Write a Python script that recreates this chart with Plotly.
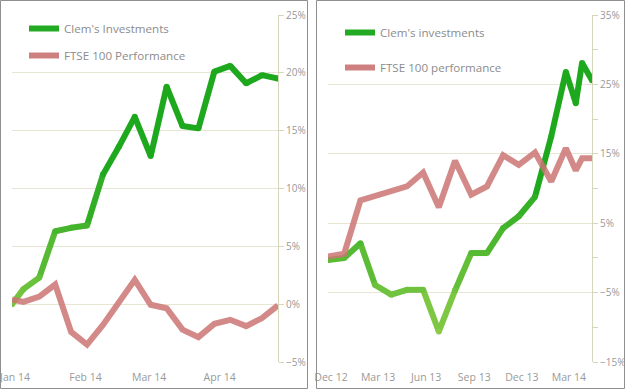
import plotly.graph_objects as go

# ---------------- data ----------------
left_dates = ["2014-01-01", "2014-01-06", "2014-01-13", "2014-01-20", "2014-01-27",
              "2014-02-03", "2014-02-10", "2014-02-17", "2014-02-24", "2014-03-03",
              "2014-03-10", "2014-03-17", "2014-03-24", "2014-03-31", "2014-04-07",
              "2014-04-14", "2014-04-21", "2014-04-28"]
left_clem = [0.0, 1.3, 2.3, 6.3, 6.6, 6.8, 11.2, 13.6, 16.2, 12.8, 18.8, 15.4,
             15.2, 20.1, 20.6, 19.1, 19.8, 19.5]
left_ftse = [0.4, 0.2, 0.65, 1.7, -2.4, -3.5, -1.8, 0.2, 2.1, -0.05, -0.35, -2.2,
             -2.85, -1.7, -1.35, -1.9, -1.2, -0.1]

right_dates = ["2012-12-01", "2013-01-01", "2013-02-01", "2013-03-01", "2013-04-01",
               "2013-05-01", "2013-06-01", "2013-07-01", "2013-08-01", "2013-09-01",
               "2013-10-01", "2013-11-01", "2013-12-01", "2014-01-01", "2014-02-01",
               "2014-03-01", "2014-03-20", "2014-04-01", "2014-04-20"]
right_clem = [-0.3, 0.0, 2.1, -3.9, -5.3, -4.6, -4.6, -10.6, -4.7, 0.7, 0.7, 4.3,
              6.0, 8.8, 17.5, 26.8, 22.3, 28.1, 25.6]
right_ftse = [0.2, 0.6, 8.3, 8.9, 9.6, 10.3, 12.3, 7.3, 14.0, 9.1, 10.3, 14.8,
              13.4, 15.2, 11.0, 15.8, 12.6, 14.35, 14.35]

left_names = ["Clem's Investments", "FTSE 100 Performance"]
right_names = ["Clem's investments", "FTSE 100 performance"]
left_range = [-5, 25]
right_range = [-15, 35]

# ---------------- styles ----------------
W, H = 625, 390
LIGHT = (160, 210, 80)
DARK = (30, 168, 30)
RED = "rgba(204,116,116,0.85)"
GRID = "#e6e6d2"
AXIS = "#d6d6bc"
TXT = "#999999"
FONT = "Open Sans"


def green_at(v, rng):
    f = (v - rng[0]) / (rng[1] - rng[0])
    t = max(0.0, min(1.0, f / 0.55))
    c = [round(LIGHT[i] + (DARK[i] - LIGHT[i]) * t) for i in range(3)]
    return "rgb(%d,%d,%d)" % tuple(c)


fig = go.Figure()


def add_panel(dates, clem, ftse, names, rng, xa, ya, legend):
    # gradient green line, one segment per pair of points
    for i in range(len(dates) - 1):
        fig.add_trace(go.Scatter(
            x=dates[i:i + 2], y=clem[i:i + 2], mode="lines",
            line=dict(color=green_at((clem[i] + clem[i + 1]) / 2, rng), width=6),
            xaxis=xa, yaxis=ya, showlegend=False, hoverinfo="skip"))
    fig.add_trace(go.Scatter(
        x=dates, y=clem, mode="markers",
        marker=dict(size=6, color=[green_at(v, rng) for v in clem], line=dict(width=0)),
        xaxis=xa, yaxis=ya, showlegend=False, hoverinfo="skip"))
    fig.add_trace(go.Scatter(
        x=dates, y=ftse, mode="lines", line=dict(color=RED, width=6),
        xaxis=xa, yaxis=ya, showlegend=False, hoverinfo="skip"))
    # legend entries
    fig.add_trace(go.Scatter(
        x=[None], y=[None], mode="lines", name=names[0],
        line=dict(color="rgb(34,170,34)", width=6), xaxis=xa, yaxis=ya,
        legend=legend, legendgroup=legend + "a"))
    fig.add_trace(go.Scatter(
        x=[None], y=[None], mode="lines", name=names[1],
        line=dict(color="rgb(206,128,128)", width=6), xaxis=xa, yaxis=ya,
        legend=legend, legendgroup=legend + "b"))


add_panel(left_dates, left_clem, left_ftse, left_names, left_range, "x", "y", "legend")
add_panel(right_dates, right_clem, right_ftse, right_names, right_range, "x2", "y2", "legend2")

ydom = [1 - 362 / H, 1 - 15 / H]
xcommon = dict(type="date", tickformat="%b %y", showgrid=False, showline=False,
               zeroline=False, ticks="outside", ticklen=5, tickcolor="rgba(0,0,0,0)",
               tickfont=dict(family=FONT, size=10.5, color=TXT), ticklabelshift=3,
               ticklabeloverflow="allow", fixedrange=True, automargin=False)
ycommon = dict(side="right", showgrid=True, gridcolor=GRID, gridwidth=1,
               showline=True, linecolor=AXIS, linewidth=1, zeroline=False,
               ticks="outside", ticklen=5, tickcolor=AXIS, ticksuffix="%",
               tickfont=dict(family=FONT, size=10, color=TXT),
               ticklabeloverflow="allow", fixedrange=True, automargin=False)

fig.update_layout(
    template="none",
    width=W, height=H,
    margin=dict(l=0, r=0, t=0, b=0, autoexpand=False),
    paper_bgcolor="white", plot_bgcolor="white",
    xaxis=dict(domain=[12 / W, 278 / W], range=[left_dates[0], left_dates[-1]],
               dtick="M1", tick0="2014-01-01", anchor="y", **xcommon),
    yaxis=dict(domain=ydom, range=left_range, dtick=5, tick0=0, anchor="x", **ycommon),
    xaxis2=dict(domain=[328 / W, 592 / W], range=[right_dates[0], right_dates[-1]],
                dtick="M3", tick0="2012-12-01", anchor="y2", **xcommon),
    yaxis2=dict(domain=ydom, range=right_range, dtick=10, tick0=-15, anchor="x2",
                minor=dict(dtick=5, tick0=-15, ticks="outside", ticklen=5,
                           tickcolor=AXIS, showgrid=False),
                **ycommon),
    legend=dict(x=24 / W, y=1 - 14 / H, xanchor="left", yanchor="top",
                bgcolor="rgba(0,0,0,0)", tracegroupgap=8,
                font=dict(family=FONT, size=11.6, color="#8c8c8c")),
    legend2=dict(x=340 / W, y=1 - 18 / H, xanchor="left", yanchor="top",
                 bgcolor="rgba(0,0,0,0)", tracegroupgap=16,
                 font=dict(family=FONT, size=11.6, color="#8c8c8c")),
    shapes=[
        dict(type="rect", xref="paper", yref="paper",
             x0=0.5 / W, x1=307.5 / W, y0=1 - 388.5 / H, y1=1 - 0.5 / H,
             line=dict(color="#8f8f8f", width=1), layer="above"),
        dict(type="rect", xref="paper", yref="paper",
             x0=316.5 / W, x1=624.5 / W, y0=1 - 388.5 / H, y1=1 - 0.5 / H,
             line=dict(color="#8f8f8f", width=1), layer="above"),
    ],
)

fig.write_html(
    "out.html",
    config={"displayModeBar": False},
    post_script="document.body.style.margin='0';document.body.style.overflow='hidden';",
)
